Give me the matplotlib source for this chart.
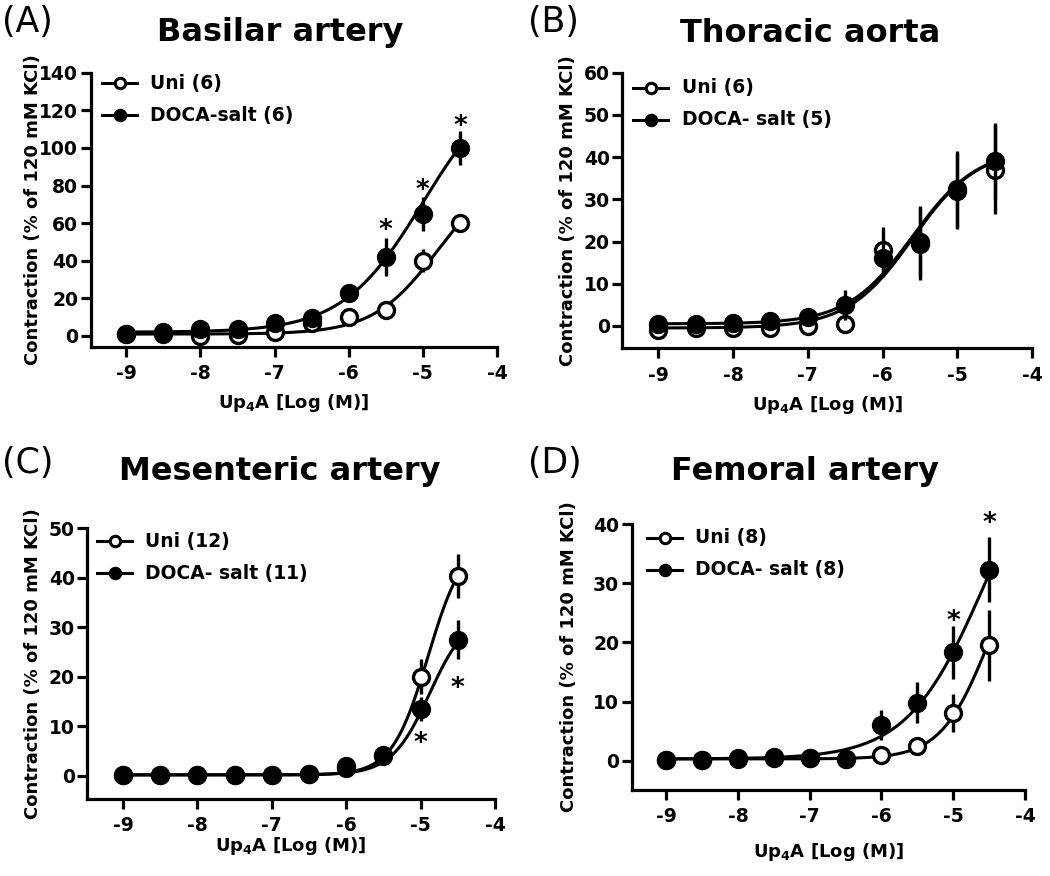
import numpy as np
import matplotlib
matplotlib.use("Agg")
import matplotlib.pyplot as plt
from matplotlib.lines import Line2D

plt.rcParams['font.family'] = ['DejaVu Sans']
plt.rcParams['axes.unicode_minus'] = False
plt.rcParams['mathtext.default'] = 'bf'

# ---------------- data ----------------
log_conc = [-9, -8.5, -8, -7.5, -7, -6.5, -6, -5.5, -5, -4.5]

# (A) Basilar artery
a_uni = [1, 1, 0, 0.5, 2, 7, 10, 14, 40, 60]
a_uni_err = [1, 1, 1, 1, 1, 1.5, 2, 2, 6, 4]
a_doca = [1, 2, 3.5, 3.5, 7, 9.5, 23, 42, 65, 100]
a_doca_err = [1, 1, 1, 1, 1.5, 2, 3, 10, 9, 9]
a_uni_fit = [1, 90, -4.8, 1.0]      # bottom, top, logEC50, hill
a_doca_fit = [2, 140, -5.0, 0.8]
a_star_x = [-5.5, -5, -4.5]
a_star_y = [56, 77, 111]

# (B) Thoracic aorta
b_uni = [-1, -0.5, -0.5, -0.5, 0, 0.5, 18, 20, 32, 37]
b_uni_err = [0.5, 0.5, 0.5, 0.5, 1, 1, 5.5, 8.5, 9, 10.5]
b_doca = [0.5, 0.5, 0.8, 1.2, 2.2, 5, 16, 19.5, 32.5, 39]
b_doca_err = [0.5, 0.5, 0.5, 0.8, 1, 3.5, 4.5, 8.5, 9, 9]
b_uni_fit = [-0.5, 42, -5.6, 1.0]
b_doca_fit = [0.5, 42, -5.6, 1.0]

# (C) Mesenteric artery
c_uni = [0.2, 0.2, 0.2, 0.2, 0.2, 0.3, 1.5, 4, 20, 40.3]
c_uni_err = [0.3, 0.3, 0.3, 0.3, 0.3, 0.3, 0.8, 1, 3.5, 4.5]
c_doca = [0.2, 0.2, 0.2, 0.2, 0.2, 0.3, 2, 4.2, 13.5, 27.5]
c_doca_err = [0.3, 0.3, 0.3, 0.3, 0.3, 0.3, 0.8, 1, 2.5, 4]
c_uni_fit = [0.2, 48, -4.9, 1.8]
c_doca_fit = [0.2, 33, -4.88, 1.7]
c_star_x = [-5, -4.5]
c_star_y = [6.5, 17.5]

# (D) Femoral artery
d_uni = [0.2, 0.2, 0.3, 0.4, 0.5, 0.3, 1, 2.5, 8, 19.5]
d_uni_err = [0.3, 0.3, 0.3, 0.3, 0.3, 0.3, 0.5, 0.8, 3.2, 6]
d_doca = [0.2, 0.2, 0.4, 0.7, 0.5, 0.3, 6, 9.8, 18.3, 32.3]
d_doca_err = [0.3, 0.3, 0.3, 0.3, 0.3, 0.3, 2.5, 3.5, 4.5, 5.5]
d_uni_fit = [0.3, 40, -4.5, 1.3]
d_doca_fit = [0.3, 60, -4.55, 0.8]
d_star_x = [-5, -4.5]
d_star_y = [23.5, 40]

x_ticks = [-9, -8, -7, -6, -5, -4]
x_ticklabels = ['-9', '-8', '-7', '-6', '-5', '-4']

W, H = 1050, 876

# layout in pixels: axes left, right, top, bottom; legend, labels
panels = [
    dict(label='(A)', title='Basilar artery',
         uni=a_uni, uni_err=a_uni_err, doca=a_doca, doca_err=a_doca_err,
         uni_fit=a_uni_fit, doca_fit=a_doca_fit,
         leg=['Uni (6)', 'DOCA-salt (6)'],
         yticks=[0, 20, 40, 60, 80, 100, 120, 140], ylim=(-5.7, 140),
         stars=(a_star_x, a_star_y),
         box=(90.7, 497, 72.7, 346.7),
         leg_px=(102, 137, 150, 83, 115),
         ylab_dx=-58, xlab_dy=56,
         lab_xy=(2, 22), title_xy=(280, 33)),
    dict(label='(B)', title='Thoracic aorta',
         uni=b_uni, uni_err=b_uni_err, doca=b_doca, doca_err=b_doca_err,
         uni_fit=b_uni_fit, doca_fit=b_doca_fit,
         leg=['Uni (6)', 'DOCA- salt (5)'],
         yticks=[0, 10, 20, 30, 40, 50, 60], ylim=(-5.3, 60),
         stars=None,
         box=(622.3, 1032.3, 72.7, 348.3),
         leg_px=(633, 668, 682, 88, 120),
         ylab_dx=-54, xlab_dy=57,
         lab_xy=(528, 22), title_xy=(810, 33)),
    dict(label='(C)', title='Mesenteric artery',
         uni=c_uni, uni_err=c_uni_err, doca=c_doca, doca_err=c_doca_err,
         uni_fit=c_uni_fit, doca_fit=c_doca_fit,
         leg=['Uni (12)', 'DOCA- salt (11)'],
         yticks=[0, 10, 20, 30, 40, 50], ylim=(-4.6, 50),
         stars=(c_star_x, c_star_y),
         box=(87.3, 495, 528, 798.7),
         leg_px=(97, 132, 145, 541, 573),
         ylab_dx=-54, xlab_dy=47,
         lab_xy=(2, 463), title_xy=(280, 471)),
    dict(label='(D)', title='Femoral artery',
         uni=d_uni, uni_err=d_uni_err, doca=d_doca, doca_err=d_doca_err,
         uni_fit=d_uni_fit, doca_fit=d_doca_fit,
         leg=['Uni (8)', 'DOCA- salt (8)'],
         yticks=[0, 10, 20, 30, 40], ylim=(-4.9, 40),
         stars=(d_star_x, d_star_y),
         box=(631.7, 1025, 524, 789.7),
         leg_px=(647, 682, 695, 538, 570),
         ylab_dx=-63, xlab_dy=62,
         lab_xy=(528, 463), title_xy=(805, 471)),
]


def hill(x, p):
    bottom, top, ec50, h = p
    return bottom + (top - bottom) / (1 + 10 ** ((ec50 - x) * h))


fig = plt.figure(figsize=(W / 100, H / 100), dpi=100)
lw = 2.2
ms = 11.5

for p in panels:
    l, r, t, b = p['box']
    ax = fig.add_axes((l / W, 1 - b / H, (r - l) / W, (b - t) / H))
    xs = np.linspace(-9, -4.5, 300)
    x = np.array(log_conc)
    # Uni
    ax.plot(xs, hill(xs, p['uni_fit']), color='black', lw=lw, zorder=2)
    ax.errorbar(x, p['uni'], yerr=p['uni_err'], fmt='none', ecolor='black',
                elinewidth=2.4, capsize=0, zorder=3)
    ax.plot(x, p['uni'], 'o', ms=ms, mfc='white', mec='black', mew=2.4, zorder=4)
    # DOCA
    ax.plot(xs, hill(xs, p['doca_fit']), color='black', lw=lw, zorder=5)
    ax.errorbar(x, p['doca'], yerr=p['doca_err'], fmt='none', ecolor='black',
                elinewidth=2.4, capsize=0, zorder=6)
    ax.plot(x, p['doca'], 'o', ms=ms, mfc='black', mec='black', mew=2.4, zorder=7)

    if p['stars'] is not None:
        for sx, sy in zip(*p['stars']):
            ax.text(sx, sy, '*', ha='center', va='center', fontsize=19,
                    fontweight='bold', clip_on=False)

    # legend (drawn in figure pixel space)
    x0, x1, xt, y1, y2 = p['leg_px']
    for yy, fc, txt in [(y1, 'white', p['leg'][0]), (y2, 'black', p['leg'][1])]:
        fy = 1 - yy / H
        fig.add_artist(Line2D([x0 / W, x1 / W], [fy, fy], color='black', lw=lw))
        fig.add_artist(Line2D([(x0 + x1) / 2 / W], [fy], marker='o', ms=7.5,
                              mfc=fc, mec='black', mew=2.2, lw=0))
        fig.text(xt / W, fy, txt, fontsize=13.5, fontweight='bold',
                 ha='left', va='center')

    ax.set_xlim(-9.48, -4)
    ax.set_ylim(*p['ylim'])
    ax.set_xticks(x_ticks)
    ax.set_xticklabels(x_ticklabels)
    ax.set_yticks(p['yticks'])
    ax.set_yticklabels([str(v) for v in p['yticks']])
    for s in ['top', 'right']:
        ax.spines[s].set_visible(False)
    for s in ['left', 'bottom']:
        ax.spines[s].set_linewidth(2.3)
        ax.spines[s].set_capstyle('projecting')
    ax.tick_params(width=2.3, length=7.5, labelsize=13.5)
    ax.tick_params(axis='y', pad=1.5)
    ax.tick_params(axis='x', pad=5)
    for tl in ax.get_xticklabels() + ax.get_yticklabels():
        tl.set_fontweight('bold')
    ax.set_xlabel('Up$_4$A [Log (M)]', fontsize=13, fontweight='bold')
    ax.set_ylabel('Contraction (% of 120 mM KCl)', fontsize=13, fontweight='bold')
    ax.yaxis.set_label_coords(p['ylab_dx'] / (r - l), 0.5)
    ax.xaxis.set_label_coords(0.5, -p['xlab_dy'] / (b - t))
    ax.xaxis.label.set_va('center')
    ax.yaxis.label.set_va('center')

    fig.text(p['lab_xy'][0] / W, 1 - p['lab_xy'][1] / H, p['label'],
             fontsize=25, ha='left', va='center')
    fig.text(p['title_xy'][0] / W, 1 - p['title_xy'][1] / H, p['title'],
             fontsize=23, fontweight='bold', ha='center', va='center')

fig.savefig('out.png', dpi=100)
